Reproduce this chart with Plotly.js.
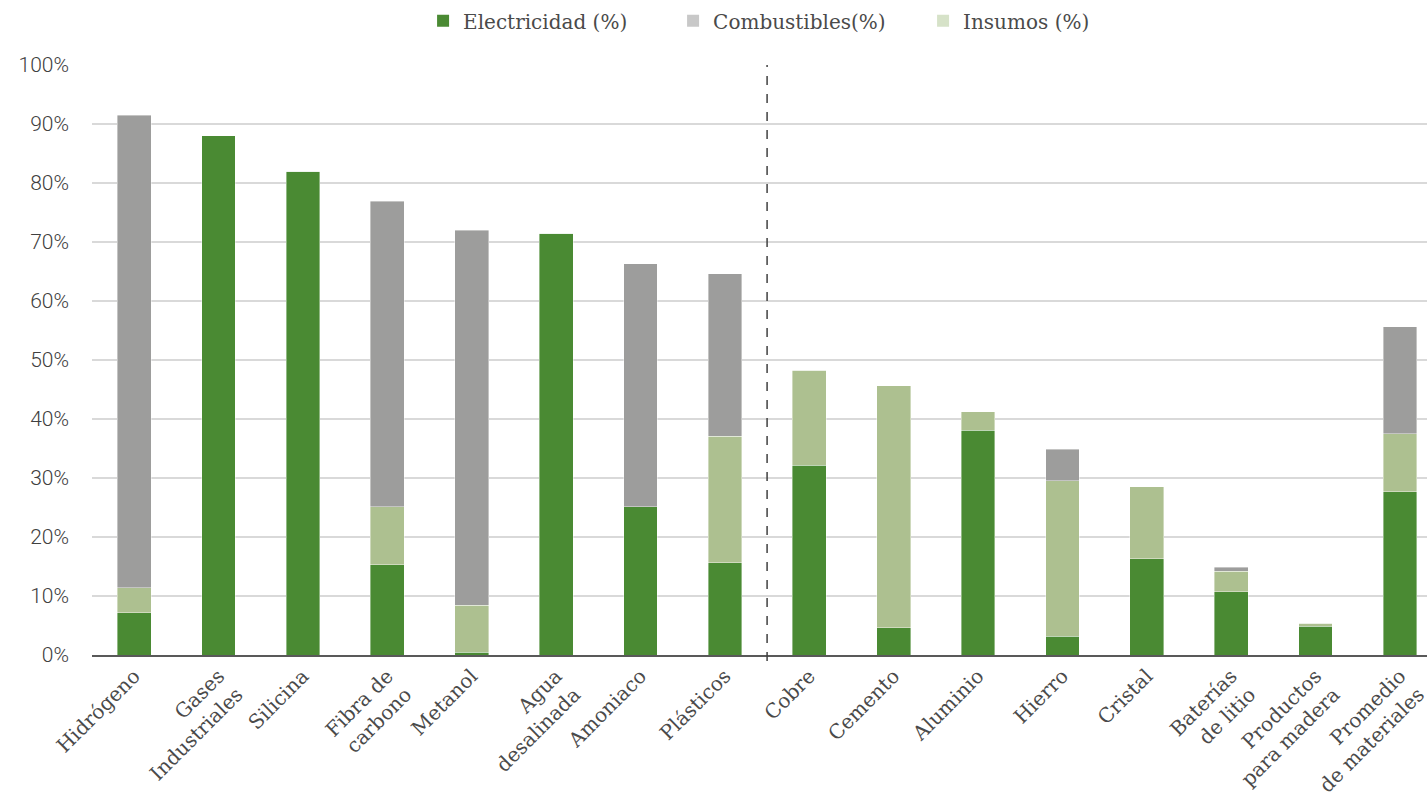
<!DOCTYPE html>
<html>
<head>
<meta charset="utf-8">
<script src="https://cdn.plot.ly/plotly-3.0.1.min.js"></script>
<style>html,body{margin:0;padding:0;background:#fff;}#chart{width:1427px;height:802px;}</style>
</head>
<body>
<div id="chart"></div>
<script>
const categories = ["Hidrógeno","Gases<br>Industriales","Silicina","Fibra de<br>carbono","Metanol","Agua<br>desalinada","Amoniaco","Plásticos","Cobre","Cemento","Aluminio","Hierro","Cristal","Baterías<br>de litio","Productos<br>para madera","Promedio<br>de materiales"];
const electricidad = [7.2, 88.0, 82.0, 15.3, 0.5, 71.5, 25.1, 15.6, 32.2, 4.6, 38.1, 3.2, 16.3, 10.7, 4.9, 27.7];
const insumos      = [4.2, 0, 0, 9.8, 7.9, 0, 0, 21.5, 16.1, 41.0, 3.1, 26.3, 12.2, 3.5, 0.5, 9.8];
const combustibles = [80.1, 0, 0, 51.8, 63.6, 0, 41.2, 27.5, 0, 0, 0, 5.4, 0, 0.7, 0, 18.1];
const yTicks = [0,10,20,30,40,50,60,70,80,90,100];
const yTickLabels = yTicks.map(v => v + "%");

const serif = "DejaVu Serif";
const C_ELEC = "#4a8a33", C_COMB = "#9d9d9c", C_INS = "#adc090";
const L_COMB = "#c8c8c8", L_INS = "#d6e2c8";
const barLine = {color: "rgba(255,255,255,0.5)", width: 0.8};

const data = [
  {type:"bar", x:categories, y:electricidad, name:"Electricidad (%)", marker:{color:C_ELEC, line:barLine}, showlegend:false, hoverinfo:"y"},
  {type:"bar", x:categories, y:insumos, name:"Insumos (%)", marker:{color:C_INS, line:barLine}, showlegend:false, hoverinfo:"y"},
  {type:"bar", x:categories, y:combustibles, name:"Combustibles(%)", marker:{color:C_COMB, line:barLine}, showlegend:false, hoverinfo:"y"},
  {type:"bar", x:[categories[0]], y:[null], name:"Electricidad (%)", marker:{color:C_ELEC}, showlegend:true},
  {type:"bar", x:[categories[0]], y:[null], name:"Combustibles(%)", marker:{color:L_COMB}, showlegend:true},
  {type:"bar", x:[categories[0]], y:[null], name:"Insumos (%)", marker:{color:L_INS}, showlegend:true}
];

const layout = {
  width:1427, height:802,
  margin:{l:92, r:0, t:65, b:147},
  paper_bgcolor:"#fff", plot_bgcolor:"#fff",
  barmode:"stack", bargap:0.6,
  font:{family:serif, size:20, color:"#4a4a4a"},
  showlegend:true,
  legend:{orientation:"h", x:0.248, xanchor:"left", y:1.075, yanchor:"middle",
          font:{family:serif, size:20, color:"#4a4a4a"}, itemwidth:30, traceorder:"normal",
          entrywidth:205, entrywidthmode:"pixels"},
  xaxis:{type:"category", categoryorder:"array", categoryarray:categories,
         range:[-0.5, 15.32], tickangle:-45, showline:true, linecolor:"#595959", linewidth:1.5,
         showgrid:false, ticks:"", tickfont:{family:serif, size:20, color:"#4a4a4a"}},
  yaxis:{range:[0,100], tickvals:yTicks, ticktext:yTickLabels, showgrid:true, gridcolor:"#d9d9d9", gridwidth:2,
         zeroline:false, showline:false, ticks:"", ticklabelstandoff:22,
         tickfont:{family:"Roboto", size:21, color:"#404040", weight:300}},
  shapes:[{type:"line", xref:"x", yref:"paper", x0:7.5, x1:7.5, y0:-0.01, y1:1,
           line:{color:"#404040", width:1.5, dash:"dash"}}]
};
Plotly.newPlot("chart", data, layout, {displayModeBar:false, staticPlot:true});
</script>
</body>
</html>
